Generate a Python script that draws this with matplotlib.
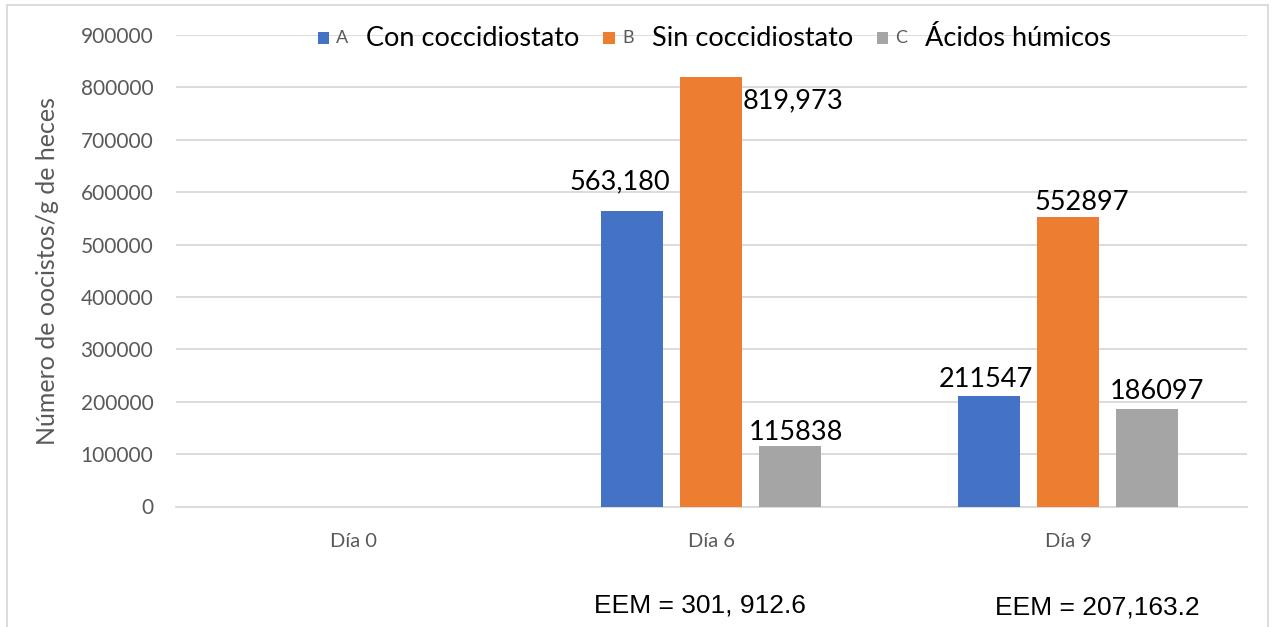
import matplotlib
matplotlib.use("Agg")
import matplotlib.pyplot as plt
from matplotlib.patches import Rectangle
from matplotlib.offsetbox import AnchoredOffsetbox, HPacker, TextArea, DrawingArea
import numpy as np

plt.rcParams["font.family"] = ["Lato", "DejaVu Sans"]

days = ["Día 0", "Día 6", "Día 9"]
letters = ["A", "B", "C"]
groups = ["Con coccidiostato", "Sin coccidiostato", "Ácidos húmicos"]
con_cocc = [0, 563180, 211547]
sin_cocc = [0, 819973, 552897]
humicos = [0, 115838, 186097]
series = [con_cocc, sin_cocc, humicos]
colors = ["#4472C4", "#ED7D31", "#A5A5A5"]

# labels as written on the chart (only for non-zero bars), with manual offsets in pixels
bar_labels = {
    (0, 1): ("563,180", -12, 30),
    (1, 1): ("819,973", 82, -24),
    (2, 1): ("115838", 6, 13),
    (0, 2): ("211547", -3, 16),
    (1, 2): ("552897", 14, 14),
    (2, 2): ("186097", 10, 18),
}
eem_texts = ["EEM = 301, 912.6", "EEM = 207,163.2"]

W, H = 1276, 627
fig = plt.figure(figsize=(W / 100, H / 100), dpi=100)
ax = fig.add_axes([175.5 / W, (H - 506.5) / H, 1071 / W, 471.5 / H])

x = np.arange(len(days))
width = 0.1737
step = 0.2213
for i, vals in enumerate(series):
    ax.bar(x + (i - 1) * step, vals, width, color=colors[i], zorder=3)
    for j, v in enumerate(vals):
        if (i, j) in bar_labels:
            txt, dx, dy = bar_labels[(i, j)]
            ax.annotate(txt, xy=(x[j] + (i - 1) * step, v), xytext=(dx, dy),
                        textcoords="offset pixels", ha="center", va="center",
                        fontsize=19.5, color="black", zorder=4)

ax.set_xlim(-0.5, 2.5)
ax.set_ylim(0, 900000)
ax.set_yticks(np.arange(0, 900001, 100000))
ax.set_yticklabels([str(v) for v in range(0, 900001, 100000)])
ax.set_xticks(x)
ax.set_xticklabels(days)
ax.tick_params(axis="y", length=0, pad=16, labelsize=15, labelcolor="#595959")
ax.tick_params(axis="x", length=0, pad=19, labelsize=14.5, labelcolor="#595959")
ax.grid(axis="y", color="#D9D9D9", linewidth=1.3, zorder=0)
for s in ["top", "right", "left"]:
    ax.spines[s].set_visible(False)
ax.spines["bottom"].set_color("#D9D9D9")
ax.spines["bottom"].set_linewidth(1.3)
ax.set_ylabel("Número de oocistos/g de heces", fontsize=18, color="#595959")
ax.yaxis.set_label_coords(-(175.5 - 59) / 1071, 0.5)

# legend: coloured square, small grey letter, large black name
items = []
for c, l, g in zip(colors, letters, groups):
    da = DrawingArea(8.5, 8.5, 0, 0)
    da.add_artist(Rectangle((0, 0), 8.5, 8.5, facecolor=c, edgecolor="none"))
    a = TextArea(l, textprops=dict(fontsize=13, color="#595959"))
    n = TextArea(g, textprops=dict(fontsize=19.5, color="black"))
    left = HPacker(children=[da, a], sep=5, align="center")
    items.append(HPacker(children=[left, n], sep=13, align="center"))
leg = HPacker(children=items, sep=17, align="center")
box = AnchoredOffsetbox(loc="center", child=leg, frameon=False, pad=0, borderpad=0,
                        bbox_to_anchor=(714.5 / W, (H - 38) / H),
                        bbox_transform=fig.transFigure)
fig.add_artist(box)

# EEM notes under the chart
fig.text(700 / W, (H - 605) / H, eem_texts[0], ha="center", va="center",
         fontsize=19, family="Liberation Sans")
fig.text(1097 / W, (H - 607) / H, eem_texts[1], ha="center", va="center",
         fontsize=19, family="Liberation Sans")

# chart frame
fig.add_artist(Rectangle((7 / W, -0.05), (1268 - 7) / W, (H - 5) / H + 0.05,
                         transform=fig.transFigure, fill=False,
                         edgecolor="#D9D9D9", linewidth=1.3))

fig.savefig("out.png", dpi=100)
